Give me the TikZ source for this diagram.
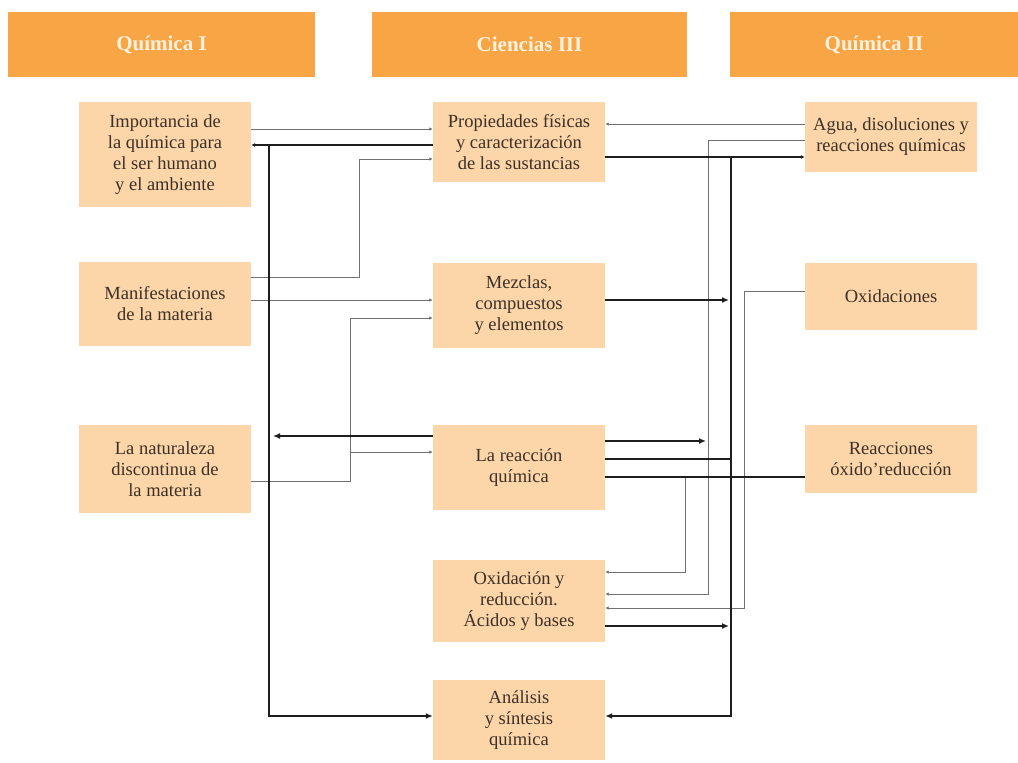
\documentclass[tikz,border=0pt]{standalone}
\usepackage{fontspec}
\setmainfont{Liberation Serif}
\usetikzlibrary{arrows.meta}
\definecolor{hdr}{HTML}{F8A545}
\definecolor{boxc}{HTML}{FCD6A8}
\definecolor{hdrtxt}{HTML}{FDF1DE}
\definecolor{txt}{HTML}{3C3028}
\definecolor{thinc}{HTML}{707070}
\definecolor{thickc}{HTML}{1E1E1E}
\tikzset{
  hdrbox/.style={fill=hdr,draw=none,minimum height=65pt,inner sep=0pt,text=hdrtxt,font=\fontsize{21}{24}\selectfont\bfseries},
  cbox/.style={fill=boxc,draw=none,minimum width=172pt,inner sep=0pt,align=center,text=txt,font=\fontsize{18.5}{21}\selectfont},
  thinln/.style={draw=thinc,line width=0.9pt},
  thinar/.style={thinln,-{Latex[length=3.5pt,width=3.5pt]}},
  thickln/.style={draw=thickc,line width=1.7pt},
  thickar/.style={thickln,-{Latex[length=7pt,width=6pt]}},
  thicksm/.style={thickln,-{Latex[length=4pt,width=4pt]}}
}
\begin{document}
\begin{tikzpicture}[x=1pt,y=-1pt]
\useasboundingbox[fill=white] (0,0) rectangle (1018,763);
% headers
\node[hdrbox,minimum width=307pt] (h1) at (161.5,44.5) {Química I};
\node[hdrbox,minimum width=315pt] (h2) at (529.5,44.5) {Ciencias III};
\node[hdrbox,minimum width=288pt] (h3) at (874,44.5) {Química II};
% left column
\node[cbox,minimum height=105pt] (L1) at (165,154.5) {Importancia de\\la química para\\el ser humano\\y el ambiente};
\node[cbox,minimum height=84pt] (L2) at (165,304) {Manifestaciones\\de la materia};
\node[cbox,minimum height=88pt] (L3) at (165,469) {La naturaleza\\discontinua de\\la materia};
% middle column
\node[cbox,minimum height=80pt] (M1) at (519,142) {Propiedades físicas\\y caracterización\\de las sustancias};
\node[cbox,minimum height=85pt] (M2) at (519,305.5) {Mezclas,\\compuestos\\y elementos};
\node[cbox,minimum height=85pt] (M3) at (519,467.5) {La reacción\\química};
\node[cbox,minimum height=82pt] (M4) at (519,601) {Oxidación y\\reducción.\\Ácidos y bases};
\node[cbox,minimum height=80pt] (M5) at (519,720) {Análisis\\y síntesis\\química};
% right column
\node[cbox,minimum height=70pt] (R1) at (891,137) {Agua, disoluciones y\\reacciones químicas};
\node[cbox,minimum height=67pt] (R2) at (891,296.5) {Oxidaciones};
\node[cbox,minimum height=68pt] (R3) at (891,459) {Reacciones\\óxido'reducción};
% junction coordinates
\coordinate (tl1) at (269,145);
\coordinate (tl2) at (269,716);
\coordinate (tl3) at (273,436);
\coordinate (a1) at (359,277);
\coordinate (a2) at (359,159);
\coordinate (b1) at (350,481);
\coordinate (b2) at (350,318);
\coordinate (b3) at (350,452);
\coordinate (c1) at (708,140);
\coordinate (c2) at (708,594);
\coordinate (tr1) at (731,157);
\coordinate (tr2) at (731,716);
\coordinate (d1) at (744,291);
\coordinate (d2) at (744,608);
\coordinate (e1) at (685,477);
\coordinate (e2) at (685,572);
\coordinate (m2t) at (729,300);
\coordinate (m3t) at (706,441);
\coordinate (m3u) at (731,459);
\coordinate (m4t) at (729,626);
% left side thin connectors
\draw[thinar] (L1.east |- 0,129) -- (M1.west |- 0,129);
\draw[thinar] (L2.east |- a1) -- (a1) -- (a2) -- (M1.west |- a2);
\draw[thinar] (L2.east |- 0,300) -- (M2.west |- 0,300);
\draw[thinar] (L3.east |- b1) -- (b1) -- (b2) -- (M2.west |- b2);
\draw[thinar] (b1) -- (b3) -- (M3.west |- b3);
% left trunk
\draw[thicksm] (M1.west |- tl1) -- (L1.east |- tl1);
\draw[thickar] (tl1) -- (tl2) -- (M5.west |- tl2);
\draw[thickar] (M3.west |- tl3) -- (tl3);
% right side thin connectors
\draw[thinar] (R1.west |- 0,124) -- (M1.east |- 0,124);
\draw[thinar] (R1.west |- c1) -- (c1) -- (c2) -- (M4.east |- c2);
\draw[thinar] (R2.west |- d1) -- (d1) -- (d2) -- (M4.east |- d2);
\draw[thinar] (e1) -- (e2) -- (M4.east |- e2);
% right trunk
\draw[thicksm] (M1.east |- tr1) -- (R1.west |- tr1);
\draw[thickar] (tr1) -- (tr2) -- (M5.east |- tr2);
\draw[thickar] (M2.east |- m2t) -- (m2t);
\draw[thickar] (M3.east |- m3t) -- (m3t);
\draw[thickln] (M3.east |- m3u) -- (m3u);
\draw[thickln] (M3.east |- e1) -- (R3.west |- e1);
\draw[thickar] (M4.east |- m4t) -- (m4t);
\end{tikzpicture}
\end{document}
